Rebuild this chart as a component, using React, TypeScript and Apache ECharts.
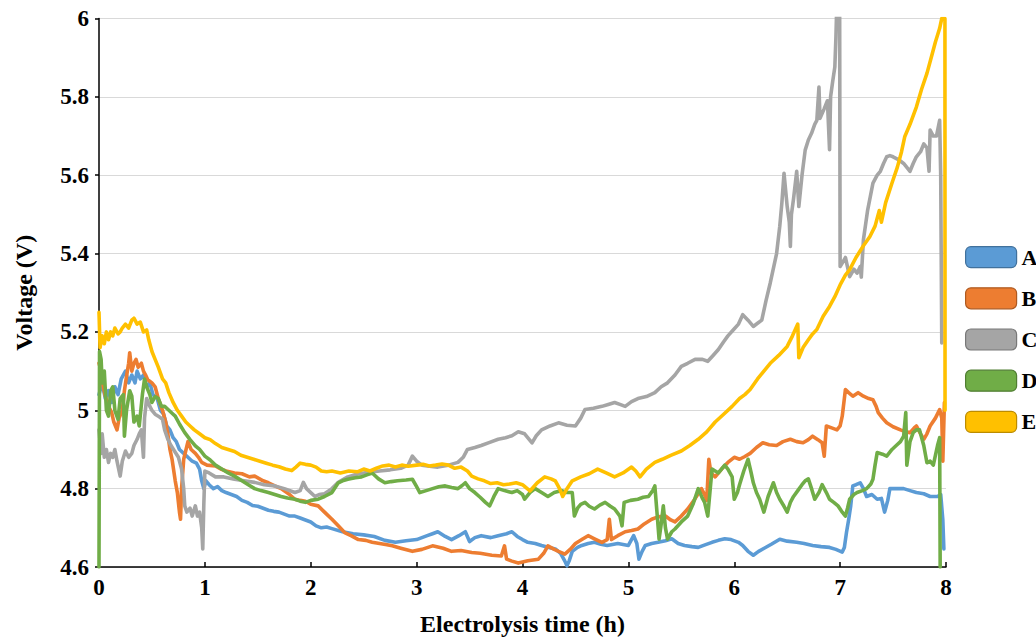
import React, { useEffect, useRef } from "react";
import * as echarts from "echarts";

const seriesNames = ["A", "B", "C", "D", "E"];
const seriesColors = ["#5B9BD5", "#ED7D31", "#A5A5A5", "#70AD47", "#FFC000"];
const legendBorders = ["#41719C", "#AE5A21", "#787878", "#507E32", "#BC8C00"];
const xTickValues = [0, 1, 2, 3, 4, 5, 6, 7, 8];
const yTickValues = [4.6, 4.8, 5, 5.2, 5.4, 5.6, 5.8, 6];

const seriesA: [number, number][] = [
  [0, 5.04], [0.03, 5.07], [0.06, 5.03], [0.09, 5.05], [0.12, 5.02], [0.15, 5.06], [0.18, 5.04], [0.21, 5.08],
  [0.25, 5.1], [0.28, 5.07], [0.31, 5.09], [0.34, 5.07], [0.36, 5.1], [0.39, 5.08], [0.42, 5.09], [0.45, 5.06],
  [0.48, 5.07], [0.51, 5.04], [0.55, 5.03], [0.58, 5.0], [0.61, 4.99], [0.64, 4.96], [0.67, 4.95], [0.7, 4.93],
  [0.73, 4.92], [0.76, 4.9], [0.8, 4.89], [0.84, 4.88], [0.88, 4.87], [0.92, 4.865], [0.95, 4.85], [0.97, 4.82],
  [0.99, 4.8], [1.01, 4.82], [1.04, 4.81], [1.08, 4.8], [1.12, 4.805], [1.16, 4.795], [1.2, 4.79], [1.25, 4.785],
  [1.3, 4.78], [1.35, 4.77], [1.4, 4.765], [1.45, 4.757], [1.5, 4.755], [1.55, 4.75], [1.6, 4.745], [1.65, 4.742],
  [1.7, 4.74], [1.75, 4.735], [1.8, 4.73], [1.85, 4.73], [1.9, 4.725], [1.95, 4.72], [2.0, 4.715], [2.05, 4.705],
  [2.1, 4.7], [2.15, 4.702], [2.2, 4.698], [2.3, 4.69], [2.4, 4.685], [2.5, 4.682], [2.6, 4.678], [2.7, 4.668],
  [2.8, 4.663], [2.9, 4.667], [3.0, 4.67], [3.1, 4.68], [3.15, 4.685], [3.2, 4.69], [3.27, 4.678], [3.33, 4.67],
  [3.4, 4.68], [3.46, 4.69], [3.5, 4.665], [3.55, 4.675], [3.61, 4.68], [3.7, 4.675], [3.77, 4.68], [3.85, 4.685],
  [3.9, 4.69], [3.95, 4.678], [4.0, 4.67], [4.05, 4.663], [4.12, 4.66], [4.18, 4.655], [4.25, 4.65], [4.31, 4.646],
  [4.36, 4.635], [4.4, 4.615], [4.42, 4.603], [4.44, 4.615], [4.47, 4.64], [4.52, 4.65], [4.56, 4.655], [4.62, 4.66],
  [4.68, 4.663], [4.74, 4.658], [4.8, 4.655], [4.9, 4.66], [5.0, 4.655], [5.05, 4.68], [5.08, 4.66], [5.1, 4.62],
  [5.13, 4.64], [5.16, 4.655], [5.22, 4.66], [5.28, 4.663], [5.35, 4.667], [5.41, 4.672], [5.47, 4.66], [5.53, 4.655],
  [5.6, 4.652], [5.66, 4.65], [5.73, 4.657], [5.79, 4.663], [5.85, 4.668], [5.91, 4.672], [5.97, 4.67], [6.04, 4.663],
  [6.08, 4.655], [6.13, 4.64], [6.18, 4.63], [6.23, 4.64], [6.27, 4.646], [6.35, 4.658], [6.43, 4.671], [6.5, 4.666],
  [6.59, 4.663], [6.66, 4.66], [6.74, 4.655], [6.82, 4.652], [6.9, 4.65], [6.96, 4.645], [7.02, 4.638], [7.04, 4.65],
  [7.06, 4.688], [7.08, 4.72], [7.1, 4.756], [7.12, 4.807], [7.15, 4.81], [7.19, 4.815], [7.22, 4.8], [7.25, 4.78],
  [7.3, 4.785], [7.35, 4.773], [7.39, 4.775], [7.42, 4.74], [7.45, 4.77], [7.47, 4.8], [7.53, 4.8], [7.6, 4.8],
  [7.66, 4.795], [7.72, 4.79], [7.79, 4.787], [7.85, 4.78], [7.92, 4.78], [7.95, 4.785], [7.97, 4.72], [7.98, 4.646],
];

const seriesB: [number, number][] = [
  [0, 5.12], [0.02, 5.1], [0.04, 5.06], [0.06, 5.036], [0.09, 5.01], [0.12, 4.994], [0.14, 4.97], [0.17, 4.95],
  [0.19, 4.98], [0.22, 5.0], [0.24, 5.05], [0.26, 5.087], [0.28, 5.12], [0.29, 5.147], [0.31, 5.1], [0.33, 5.12],
  [0.35, 5.13], [0.37, 5.11], [0.4, 5.12], [0.42, 5.1], [0.44, 5.09], [0.46, 5.078], [0.5, 5.07], [0.53, 5.06],
  [0.56, 5.03], [0.6, 5.0], [0.63, 4.97], [0.65, 4.94], [0.67, 4.9], [0.69, 4.875], [0.72, 4.82], [0.74, 4.79],
  [0.76, 4.74], [0.77, 4.722], [0.78, 4.8], [0.8, 4.875], [0.84, 4.92], [0.87, 4.9], [0.91, 4.89], [0.94, 4.88],
  [0.97, 4.867], [1.02, 4.86], [1.1, 4.858], [1.15, 4.85], [1.2, 4.845], [1.28, 4.84], [1.35, 4.838], [1.42, 4.83],
  [1.47, 4.832], [1.55, 4.82], [1.6, 4.815], [1.66, 4.807], [1.72, 4.8], [1.8, 4.785], [1.85, 4.773], [1.9, 4.77],
  [1.95, 4.768], [2.0, 4.76], [2.07, 4.756], [2.13, 4.74], [2.2, 4.722], [2.26, 4.705], [2.32, 4.688], [2.38, 4.68],
  [2.45, 4.67], [2.52, 4.668], [2.58, 4.663], [2.65, 4.66], [2.72, 4.657], [2.77, 4.654], [2.85, 4.648], [2.96, 4.64],
  [3.05, 4.645], [3.15, 4.654], [3.25, 4.648], [3.33, 4.64], [3.42, 4.642], [3.52, 4.637], [3.6, 4.635], [3.71, 4.63],
  [3.8, 4.628], [3.83, 4.654], [3.85, 4.62], [3.9, 4.615], [3.96, 4.61], [4.05, 4.616], [4.15, 4.62], [4.2, 4.635],
  [4.24, 4.654], [4.3, 4.645], [4.34, 4.64], [4.4, 4.633], [4.45, 4.645], [4.5, 4.66], [4.56, 4.67], [4.62, 4.68],
  [4.68, 4.672], [4.75, 4.663], [4.8, 4.67], [4.82, 4.722], [4.84, 4.67], [4.9, 4.68], [4.97, 4.69], [5.03, 4.693],
  [5.09, 4.697], [5.15, 4.71], [5.22, 4.722], [5.28, 4.728], [5.35, 4.73], [5.4, 4.72], [5.44, 4.715], [5.5, 4.73],
  [5.56, 4.748], [5.62, 4.77], [5.69, 4.8], [5.72, 4.785], [5.74, 4.77], [5.76, 4.875], [5.78, 4.84], [5.82, 4.83],
  [5.88, 4.85], [5.94, 4.867], [6.0, 4.88], [6.05, 4.875], [6.1, 4.882], [6.15, 4.89], [6.21, 4.905], [6.27, 4.917],
  [6.33, 4.912], [6.4, 4.91], [6.46, 4.92], [6.53, 4.926], [6.59, 4.92], [6.65, 4.917], [6.7, 4.925], [6.74, 4.934],
  [6.79, 4.925], [6.83, 4.917], [6.85, 4.883], [6.87, 4.96], [6.92, 4.955], [6.97, 4.95], [7.0, 4.96], [7.02, 4.985],
  [7.04, 5.03], [7.05, 5.053], [7.08, 5.045], [7.12, 5.036], [7.17, 5.045], [7.22, 5.036], [7.27, 5.03], [7.31, 5.027],
  [7.34, 5.01], [7.36, 4.994], [7.4, 4.98], [7.44, 4.968], [7.5, 4.958], [7.57, 4.95], [7.62, 4.945], [7.66, 4.943],
  [7.7, 4.955], [7.72, 4.96], [7.76, 4.94], [7.79, 4.926], [7.82, 4.94], [7.85, 4.96], [7.9, 4.98], [7.94, 5.002],
  [7.96, 4.98], [7.97, 4.87], [7.985, 5.02],
];

const seriesC: [number, number][] = [
  [0, 4.95], [0.02, 4.89], [0.03, 4.94], [0.05, 4.88], [0.07, 4.9], [0.09, 4.867], [0.11, 4.89], [0.13, 4.88],
  [0.15, 4.9], [0.17, 4.87], [0.2, 4.832], [0.22, 4.87], [0.25, 4.896], [0.28, 4.88], [0.31, 4.89], [0.33, 4.91],
  [0.36, 4.926], [0.38, 4.94], [0.4, 4.95], [0.42, 4.88], [0.43, 4.98], [0.45, 5.03], [0.48, 5.01], [0.5, 5.0],
  [0.53, 4.99], [0.56, 4.985], [0.6, 4.977], [0.62, 4.95], [0.65, 4.926], [0.68, 4.91], [0.72, 4.893], [0.75, 4.88],
  [0.78, 4.85], [0.8, 4.8], [0.81, 4.756], [0.83, 4.74], [0.86, 4.75], [0.88, 4.73], [0.91, 4.756], [0.93, 4.73],
  [0.95, 4.74], [0.97, 4.7], [0.98, 4.646], [0.99, 4.76], [1.0, 4.845], [1.04, 4.84], [1.1, 4.83], [1.18, 4.83],
  [1.28, 4.824], [1.37, 4.82], [1.47, 4.816], [1.56, 4.81], [1.66, 4.807], [1.75, 4.8], [1.85, 4.79], [1.9, 4.795],
  [1.93, 4.816], [1.96, 4.8], [2.0, 4.79], [2.04, 4.78], [2.08, 4.785], [2.13, 4.787], [2.2, 4.8], [2.26, 4.816],
  [2.35, 4.83], [2.45, 4.838], [2.55, 4.842], [2.65, 4.845], [2.75, 4.848], [2.85, 4.852], [2.92, 4.86], [2.96, 4.883],
  [3.0, 4.87], [3.05, 4.86], [3.12, 4.857], [3.2, 4.855], [3.3, 4.86], [3.39, 4.867], [3.44, 4.88], [3.48, 4.9],
  [3.55, 4.905], [3.61, 4.91], [3.69, 4.918], [3.77, 4.926], [3.84, 4.93], [3.9, 4.935], [3.96, 4.945], [4.02, 4.94],
  [4.09, 4.917], [4.13, 4.935], [4.18, 4.95], [4.26, 4.96], [4.34, 4.968], [4.42, 4.962], [4.5, 4.96], [4.55, 4.98],
  [4.59, 5.002], [4.67, 5.005], [4.75, 5.01], [4.81, 5.015], [4.87, 5.02], [4.92, 5.015], [4.97, 5.01], [5.03, 5.022],
  [5.09, 5.03], [5.17, 5.035], [5.25, 5.045], [5.31, 5.06], [5.37, 5.07], [5.44, 5.09], [5.5, 5.112], [5.56, 5.12],
  [5.63, 5.13], [5.7, 5.13], [5.75, 5.125], [5.8, 5.14], [5.85, 5.155], [5.9, 5.175], [5.94, 5.19], [5.99, 5.205],
  [6.04, 5.22], [6.08, 5.244], [6.13, 5.23], [6.18, 5.214], [6.22, 5.222], [6.26, 5.23], [6.3, 5.28], [6.34, 5.325],
  [6.4, 5.4], [6.43, 5.47], [6.45, 5.53], [6.47, 5.605], [6.5, 5.52], [6.52, 5.48], [6.53, 5.418], [6.54, 5.5],
  [6.56, 5.54], [6.59, 5.61], [6.61, 5.52], [6.64, 5.6], [6.67, 5.664], [6.7, 5.69], [6.73, 5.707], [6.76, 5.73],
  [6.78, 5.74], [6.8, 5.825], [6.81, 5.745], [6.85, 5.77], [6.88, 5.79], [6.9, 5.665], [6.91, 5.8], [6.93, 5.84],
  [6.95, 5.876], [6.96, 5.95], [6.975, 6.1], [6.995, 6.1], [7.0, 5.367], [7.03, 5.38], [7.05, 5.39], [7.09, 5.341],
  [7.13, 5.36], [7.16, 5.35], [7.19, 5.367], [7.2, 5.34], [7.22, 5.435], [7.26, 5.511], [7.31, 5.58], [7.35, 5.6],
  [7.38, 5.61], [7.41, 5.63], [7.44, 5.647], [7.47, 5.65], [7.5, 5.647], [7.55, 5.64], [7.6, 5.63], [7.63, 5.62],
  [7.66, 5.61], [7.69, 5.63], [7.72, 5.647], [7.76, 5.66], [7.79, 5.68], [7.82, 5.67], [7.84, 5.61], [7.85, 5.715],
  [7.88, 5.7], [7.91, 5.7], [7.94, 5.74], [7.95, 5.6], [7.96, 5.172],
];

const seriesD: [number, number][] = [
  [0, 4.6], [0.005, 5.15], [0.02, 5.13], [0.03, 5.07], [0.05, 5.1], [0.07, 5.0], [0.09, 4.985], [0.11, 5.05],
  [0.13, 5.06], [0.15, 5.0], [0.18, 4.977], [0.2, 5.03], [0.23, 5.04], [0.24, 4.934], [0.26, 5.0], [0.29, 5.05],
  [0.31, 5.036], [0.33, 4.97], [0.36, 4.985], [0.38, 4.96], [0.41, 5.04], [0.43, 5.08], [0.45, 5.06], [0.48, 5.04],
  [0.5, 5.02], [0.53, 5.035], [0.56, 5.03], [0.59, 5.01], [0.62, 5.01], [0.66, 5.0], [0.7, 4.99], [0.72, 4.985],
  [0.76, 4.965], [0.81, 4.943], [0.86, 4.925], [0.91, 4.909], [0.95, 4.9], [1.0, 4.883], [1.05, 4.873], [1.1, 4.86],
  [1.16, 4.85], [1.22, 4.84], [1.28, 4.832], [1.35, 4.82], [1.41, 4.81], [1.47, 4.8], [1.53, 4.795], [1.6, 4.79],
  [1.66, 4.785], [1.72, 4.78], [1.78, 4.776], [1.85, 4.773], [1.9, 4.768], [1.95, 4.765], [2.0, 4.77], [2.07, 4.773],
  [2.13, 4.78], [2.2, 4.79], [2.26, 4.815], [2.3, 4.82], [2.35, 4.824], [2.42, 4.828], [2.48, 4.83], [2.53, 4.835],
  [2.58, 4.84], [2.64, 4.825], [2.7, 4.815], [2.76, 4.818], [2.82, 4.82], [2.9, 4.822], [2.96, 4.824], [3.0, 4.805],
  [3.03, 4.79], [3.09, 4.795], [3.15, 4.8], [3.21, 4.805], [3.27, 4.807], [3.33, 4.803], [3.39, 4.8], [3.43, 4.808],
  [3.46, 4.815], [3.5, 4.8], [3.55, 4.79], [3.6, 4.778], [3.65, 4.765], [3.69, 4.756], [3.73, 4.78], [3.77, 4.8],
  [3.83, 4.795], [3.9, 4.79], [3.95, 4.795], [4.0, 4.785], [4.02, 4.773], [4.07, 4.79], [4.12, 4.8], [4.18, 4.79],
  [4.24, 4.78], [4.3, 4.79], [4.37, 4.795], [4.42, 4.79], [4.47, 4.79], [4.49, 4.73], [4.52, 4.75], [4.55, 4.76],
  [4.59, 4.765], [4.63, 4.755], [4.68, 4.748], [4.73, 4.758], [4.78, 4.765], [4.83, 4.755], [4.87, 4.748], [4.92, 4.73],
  [4.94, 4.705], [4.96, 4.765], [5.02, 4.77], [5.09, 4.773], [5.14, 4.778], [5.19, 4.78], [5.23, 4.795], [5.25, 4.807],
  [5.27, 4.74], [5.29, 4.671], [5.31, 4.71], [5.33, 4.756], [5.35, 4.7], [5.37, 4.671], [5.41, 4.69], [5.44, 4.697],
  [5.5, 4.715], [5.56, 4.73], [5.61, 4.76], [5.66, 4.8], [5.7, 4.775], [5.72, 4.765], [5.75, 4.73], [5.77, 4.79],
  [5.79, 4.85], [5.82, 4.845], [5.85, 4.84], [5.88, 4.85], [5.91, 4.86], [5.94, 4.85], [5.98, 4.83], [6.0, 4.773],
  [6.03, 4.79], [6.05, 4.81], [6.09, 4.845], [6.13, 4.875], [6.16, 4.84], [6.18, 4.815], [6.21, 4.79], [6.24, 4.773],
  [6.28, 4.74], [6.32, 4.78], [6.37, 4.815], [6.4, 4.79], [6.43, 4.773], [6.47, 4.755], [6.5, 4.74], [6.53, 4.765],
  [6.56, 4.78], [6.6, 4.795], [6.64, 4.81], [6.67, 4.82], [6.7, 4.825], [6.73, 4.8], [6.76, 4.773], [6.8, 4.79],
  [6.83, 4.81], [6.87, 4.79], [6.9, 4.773], [6.94, 4.765], [6.98, 4.756], [7.02, 4.74], [7.05, 4.73], [7.07, 4.75],
  [7.09, 4.773], [7.13, 4.785], [7.16, 4.79], [7.21, 4.795], [7.25, 4.8], [7.29, 4.812], [7.31, 4.824], [7.33, 4.86],
  [7.35, 4.892], [7.4, 4.888], [7.44, 4.883], [7.49, 4.9], [7.53, 4.91], [7.57, 4.92], [7.6, 4.934], [7.62, 4.994],
  [7.63, 4.86], [7.66, 4.92], [7.69, 4.943], [7.72, 4.95], [7.75, 4.95], [7.77, 4.93], [7.79, 4.91], [7.82, 4.866],
  [7.85, 4.87], [7.88, 4.86], [7.9, 4.885], [7.92, 4.91], [7.94, 4.93], [7.945, 4.6],
];

const seriesE: [number, number][] = [
  [0, 5.25], [0.01, 5.16], [0.03, 5.19], [0.05, 5.17], [0.07, 5.2], [0.09, 5.18], [0.11, 5.2], [0.13, 5.19],
  [0.15, 5.21], [0.18, 5.195], [0.2, 5.2], [0.22, 5.21], [0.25, 5.22], [0.28, 5.21], [0.31, 5.23], [0.33, 5.235],
  [0.36, 5.22], [0.39, 5.225], [0.42, 5.2], [0.45, 5.205], [0.47, 5.18], [0.5, 5.15], [0.53, 5.13], [0.56, 5.11],
  [0.6, 5.08], [0.63, 5.07], [0.66, 5.045], [0.7, 5.02], [0.74, 5.0], [0.78, 4.985], [0.82, 4.97], [0.86, 4.96],
  [0.9, 4.95], [0.95, 4.94], [1.0, 4.93], [1.05, 4.925], [1.1, 4.915], [1.16, 4.905], [1.22, 4.9], [1.28, 4.895],
  [1.34, 4.885], [1.4, 4.88], [1.46, 4.875], [1.52, 4.87], [1.58, 4.865], [1.64, 4.86], [1.7, 4.856], [1.76, 4.85],
  [1.82, 4.846], [1.86, 4.855], [1.9, 4.865], [1.95, 4.862], [2.0, 4.86], [2.05, 4.855], [2.1, 4.845], [2.15, 4.843],
  [2.2, 4.845], [2.28, 4.84], [2.36, 4.845], [2.44, 4.843], [2.5, 4.85], [2.56, 4.845], [2.62, 4.852], [2.68, 4.858],
  [2.74, 4.86], [2.8, 4.855], [2.86, 4.86], [2.92, 4.857], [3.0, 4.86], [3.06, 4.862], [3.12, 4.858], [3.18, 4.86],
  [3.24, 4.863], [3.3, 4.86], [3.36, 4.852], [3.42, 4.855], [3.48, 4.845], [3.52, 4.832], [3.58, 4.825], [3.64, 4.82],
  [3.7, 4.813], [3.76, 4.815], [3.82, 4.81], [3.88, 4.812], [3.94, 4.815], [4.0, 4.81], [4.07, 4.794], [4.14, 4.815],
  [4.21, 4.83], [4.27, 4.825], [4.31, 4.82], [4.35, 4.8], [4.38, 4.78], [4.42, 4.8], [4.47, 4.82], [4.55, 4.83],
  [4.63, 4.838], [4.71, 4.85], [4.79, 4.84], [4.87, 4.83], [4.95, 4.84], [5.03, 4.855], [5.07, 4.845], [5.11, 4.83],
  [5.17, 4.85], [5.25, 4.867], [5.32, 4.875], [5.4, 4.885], [5.5, 4.896], [5.58, 4.91], [5.66, 4.926], [5.74, 4.945],
  [5.82, 4.97], [5.9, 4.99], [5.98, 5.01], [6.05, 5.03], [6.1, 5.04], [6.15, 5.053], [6.22, 5.08], [6.28, 5.1],
  [6.34, 5.12], [6.42, 5.14], [6.5, 5.163], [6.55, 5.19], [6.6, 5.22], [6.61, 5.134], [6.65, 5.16], [6.7, 5.18],
  [6.74, 5.195], [6.78, 5.206], [6.84, 5.24], [6.9, 5.265], [6.95, 5.29], [7.0, 5.32], [7.05, 5.345], [7.09, 5.359],
  [7.15, 5.39], [7.22, 5.42], [7.28, 5.443], [7.33, 5.47], [7.37, 5.51], [7.39, 5.48], [7.43, 5.53], [7.49, 5.58],
  [7.54, 5.62], [7.58, 5.66], [7.61, 5.698], [7.66, 5.73], [7.72, 5.774], [7.77, 5.82], [7.82, 5.86], [7.86, 5.9],
  [7.9, 5.94], [7.94, 5.975], [7.96, 6.0], [7.99, 6.0], [7.991, 5.0],
];

const allSeries = [seriesA, seriesB, seriesC, seriesD, seriesE];

const FONT = '"Liberation Serif", "Times New Roman", serif';

export default function App() {
  const ref = useRef<HTMLDivElement>(null);

  useEffect(() => {
    if (!ref.current) return;
    const chart = echarts.init(ref.current, undefined, { renderer: "svg" });
    const option = {
      animation: false,
      backgroundColor: "#ffffff",
      grid: { left: 99, right: 90, top: 18.5, bottom: 72, containLabel: false },
      legend: {
        orient: "vertical",
        left: 960,
        top: 241,
        icon: "roundRect",
        itemWidth: 51,
        itemHeight: 21,
        itemGap: 19,
        selectedMode: false,
        textStyle: { fontFamily: FONT, fontWeight: "bold", fontSize: 22, color: "#000" },
        data: seriesNames.map((n, i) => ({
          name: n,
          itemStyle: { color: seriesColors[i], borderColor: legendBorders[i], borderWidth: 1.2 },
        })),
      },
      xAxis: {
        type: "value",
        min: xTickValues[0],
        max: xTickValues[xTickValues.length - 1],
        interval: 1,
        name: "Electrolysis time (h)",
        nameLocation: "middle",
        nameGap: 45,
        nameTextStyle: { fontFamily: FONT, fontWeight: "bold", fontSize: 24, color: "#000" },
        axisLine: { show: true, onZero: false, lineStyle: { color: "#000", width: 1.5 } },
        axisTick: { show: true, inside: true, length: 5, lineStyle: { color: "#000", width: 1.5 } },
        axisLabel: { fontFamily: FONT, fontWeight: "bold", fontSize: 23, color: "#000", margin: 9 },
        splitLine: { show: false },
      },
      yAxis: {
        type: "value",
        min: yTickValues[0],
        max: yTickValues[yTickValues.length - 1],
        interval: 0.2,
        name: "Voltage (V)",
        nameLocation: "middle",
        nameGap: 63,
        nameTextStyle: { fontFamily: FONT, fontWeight: "bold", fontSize: 24, color: "#000" },
        axisLine: { show: true, onZero: false, lineStyle: { color: "#000", width: 1.5 } },
        axisTick: { show: true, inside: false, length: 4, lineStyle: { color: "#000", width: 1.5 } },
        axisLabel: {
          fontFamily: FONT,
          fontWeight: "bold",
          fontSize: 23,
          color: "#000",
          margin: 10,
          formatter: (v: number) => String(Math.round(v * 10) / 10),
        },
        splitLine: { show: true, lineStyle: { color: "#d9d9d9", width: 1.2 } },
      },
      series: allSeries.map((d, i) => ({
        name: seriesNames[i],
        type: "line",
        data: d,
        showSymbol: false,
        symbol: "none",
        clip: true,
        color: seriesColors[i],
        itemStyle: { color: seriesColors[i] },
        lineStyle: { color: seriesColors[i], width: 3.6, join: "round", cap: "round" },
        emphasis: { disabled: true },
        z: 2 + i,
      })),
    };
    chart.setOption(option as any);
    return () => chart.dispose();
  }, []);

  return (
    <div
      ref={ref}
      style={{ position: "absolute", left: 0, top: 0, width: 1036, height: 641, background: "#fff" }}
    />
  );
}
